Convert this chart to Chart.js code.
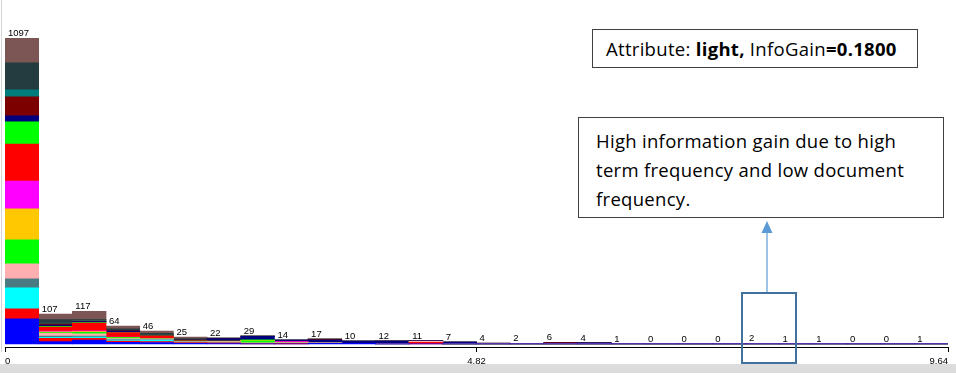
<!DOCTYPE html>
<html>
<head>
<meta charset="utf-8">
<script src="https://cdn.jsdelivr.net/npm/chart.js@4/dist/chart.umd.min.js"></script>
<style>
  body { margin: 0; background: #fff; }
  #wrap { position: relative; width: 956px; height: 384px; overflow: hidden; }
  #band { position: absolute; left: 0; top: 364px; width: 956px; height: 9px; background: #dcdcdc; }
  #edge { position: absolute; left: 1px; top: 0; width: 1px; height: 352px; background: #d4d4d4; }
  #holder { position: absolute; left: 0; top: 0; width: 956px; height: 384px; }
  .note { position: absolute; box-sizing: border-box; background: #fff; border: 1px solid #404040;
          font-family: "Open Sans", Lato, sans-serif; font-size: 18.5px; letter-spacing: 0.3px; color: #000; }
  #attr { left: 592px; top: 29px; width: 326px; height: 39px; padding-left: 13px; line-height: 37px; white-space: nowrap; }
  #why { left: 578px; top: 117px; width: 366px; height: 101px; padding: 8px 0 0 17px; line-height: 29px; white-space: nowrap; }
  #mark { position: absolute; left: 741px; top: 292px; width: 56px; height: 72px; box-sizing: border-box; border: 2px solid #41719c; }
  #arrow { position: absolute; left: 0; top: 0; }
</style>
</head>
<body>
<div id="wrap">
  <div id="band"></div>
  <div id="edge"></div>
  <div id="holder"><canvas id="myChart"></canvas></div>
  <div class="note" id="attr">Attribute: <b>light,</b> InfoGain<b>=0.1800</b></div>
  <div class="note" id="why">High information gain due to high<br>term frequency and low document<br>frequency.</div>
  <svg id="arrow" width="956" height="384">
    <line x1="767" y1="231" x2="767" y2="292" stroke="#9dc3e6" stroke-width="2"/>
    <polygon points="767,221 761.5,233 772.5,233" fill="#5b9bd5"/>
  </svg>
  <div id="mark"></div>
</div>
<script>
// totals printed over each bin
const binTotals = [1097, 107, 117, 64, 46, 25, 22, 29, 14, 17, 10, 12, 11, 7, 4, 2, 6, 4, 1, 0, 0, 0, 2, 1, 1, 0, 0, 1]
const axisTicks = [0, 4.82, 9.64]

// counts per class, one value per bin (weka class colours)
const cBlue    = [90, 8, 14, 6, 5, 2, 1, 0, 0, 2, 2, 0, 0, 0, 0, 0, 0, 0, 0, 0, 0, 0, 0, 0, 0, 0, 0, 0]
const cRed     = [36, 12, 6, 4, 3, 3, 3, 1, 2, 1, 0, 0, 6, 0, 0, 0, 0, 0, 0, 0, 0, 0, 0, 0, 0, 0, 0, 0]
const cCyan    = [75, 4, 5, 4, 6, 1, 0, 0, 0, 0, 0, 0, 0, 0, 0, 0, 0, 0, 0, 0, 0, 0, 0, 0, 0, 0, 0, 0]
const cSlate   = [32, 4, 3, 2, 1, 1, 0, 0, 0, 0, 0, 0, 0, 0, 0, 0, 0, 0, 0, 0, 0, 0, 0, 0, 0, 0, 0, 0]
const cPink    = [54, 10, 8, 3, 2, 1, 4, 3, 2, 2, 0, 2, 3, 0, 0, 0, 0, 0, 0, 0, 0, 0, 0, 0, 0, 0, 0, 0]
const cGreen   = [86, 3, 6, 4, 1, 0, 0, 7, 0, 0, 0, 0, 0, 0, 0, 0, 0, 0, 0, 0, 0, 0, 0, 0, 0, 0, 0, 0]
const cOrange  = [111, 2, 2, 1, 0, 0, 0, 2, 0, 0, 0, 0, 0, 0, 0, 0, 0, 0, 0, 0, 0, 0, 0, 0, 0, 0, 0, 0]
const cMagenta = [100, 3, 3, 1, 1, 0, 0, 0, 4, 0, 0, 0, 0, 0, 0, 0, 0, 0, 0, 0, 0, 0, 0, 0, 0, 0, 0, 0]
const cRed2    = [133, 14, 28, 16, 10, 3, 2, 0, 0, 0, 0, 0, 0, 0, 0, 0, 0, 0, 0, 0, 0, 0, 0, 0, 0, 0, 0, 0]
const cGreen2  = [79, 3, 2, 1, 0, 0, 0, 2, 0, 0, 0, 0, 0, 0, 0, 0, 0, 0, 0, 0, 0, 0, 0, 0, 0, 0, 0, 0]
const cNavy    = [22, 5, 3, 4, 2, 3, 9, 12, 6, 10, 8, 8, 2, 7, 2, 2, 3, 4, 1, 0, 0, 0, 2, 1, 1, 0, 0, 1]
const cMaroon  = [68, 4, 2, 2, 1, 1, 0, 0, 0, 2, 0, 0, 0, 0, 0, 0, 3, 0, 0, 0, 0, 0, 0, 0, 0, 0, 0, 0]
const cTeal    = [25, 3, 2, 1, 1, 0, 0, 0, 0, 0, 0, 0, 0, 0, 0, 0, 0, 0, 0, 0, 0, 0, 0, 0, 0, 0, 0, 0]
const cDark    = [97, 12, 3, 5, 5, 4, 2, 2, 0, 0, 0, 0, 0, 0, 0, 0, 0, 0, 0, 0, 0, 0, 0, 0, 0, 0, 0, 0]
const cBrown   = [89, 20, 30, 10, 8, 6, 1, 0, 0, 0, 0, 2, 0, 0, 2, 0, 0, 0, 0, 0, 0, 0, 0, 0, 0, 0, 0, 0]

const classData = [cBlue, cRed, cCyan, cSlate, cPink, cGreen, cOrange, cMagenta, cRed2, cGreen2, cNavy, cMaroon, cTeal, cDark, cBrown]
const classColors = ['#0000ff', '#ff0000', '#00ffff', 'rgb(75,123,130)', 'rgb(255,175,175)', '#00ff00', 'rgb(255,200,0)',
  '#ff00ff', '#ff0000', '#00ff00', 'rgb(0,0,124)', 'rgb(124,0,0)', 'rgb(0,124,124)', 'rgb(36,60,63)', 'rgb(124,85,85)']

const countLabels = {
  id: 'countLabels',
  afterDatasetsDraw(chart) {
    const ctx = chart.ctx
    const x = chart.scales.x
    const y = chart.scales.y
    const w = x.width / binTotals.length
    ctx.save()
    ctx.font = '9.5px "Liberation Sans", Arial, sans-serif'
    ctx.fillStyle = '#000'
    ctx.textAlign = 'left'
    ctx.textBaseline = 'alphabetic'
    binTotals.forEach((t, i) => {
      ctx.fillText(String(t), x.getPixelForValue(i) - w / 2 + 3, y.getPixelForValue(t) - 2)
    })
    ctx.restore()
  }
}

const config = {
  type: 'bar',
  data: {
    labels: binTotals.map((_, i) => String(i + 1)),
    datasets: classData.map((d, i) => ({
      label: 'class ' + (i + 1),
      data: d,
      backgroundColor: classColors[i],
      borderWidth: 0,
      barPercentage: 1,
      categoryPercentage: 1,
      stack: 'bins'
    }))
  },
  options: {
    responsive: true,
    maintainAspectRatio: false,
    devicePixelRatio: 1,
    animation: false,
    layout: { padding: { top: 38, left: 5, right: 8, bottom: 20 } },
    plugins: { legend: { display: false }, tooltip: { enabled: false } },
    scales: {
      x: { display: false, stacked: true },
      y: { display: false, stacked: true, min: -11, max: 1097 },
      xa: {
        type: 'linear',
        position: 'bottom',
        offset: false,
        min: 0,
        max: 9.64,
        afterBuildTicks: s => { s.ticks = axisTicks.map(v => ({ value: v })) },
        afterFit: s => { s.height = 17 },
        ticks: {
          autoSkip: false,
          maxRotation: 0,
          align: 'inner',
          padding: 4,
          color: '#000',
          font: { family: '"Liberation Sans", Arial, sans-serif', size: 9.5 },
          callback: v => String(v)
        },
        grid: { offset: false, drawOnChartArea: false, tickLength: 5, color: '#000' },
        border: { color: '#000', width: 1 }
      }
    }
  },
  plugins: [countLabels]
}

const myChart = new Chart(document.getElementById('myChart'), config)
</script>
</body>
</html>
